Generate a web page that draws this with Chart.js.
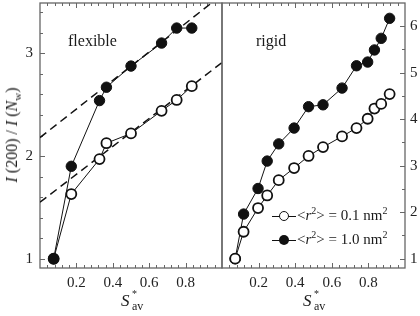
<!DOCTYPE html>
<html><head><meta charset="utf-8">
<script src="https://cdn.jsdelivr.net/npm/chart.js@4/dist/chart.umd.min.js"></script>
<style>
html,body{margin:0;padding:0;background:#fff;}
#wrap{position:relative;width:420px;height:316px;overflow:hidden;font-family:"Liberation Serif","Times New Roman",serif;color:#1a1a1a;}
canvas{position:absolute;left:0;top:0;}
.lbl{position:absolute;white-space:nowrap;font-size:16px;line-height:1;}
.leg{position:absolute;white-space:nowrap;font-size:15px;line-height:1;}
.leg sup{font-size:10px;vertical-align:0;position:relative;top:-6px;}
.sym{position:absolute;width:24px;height:12px;}
.sym::before{content:"";position:absolute;left:0;right:0;top:5.5px;height:1px;background:#111;}
.sym span{position:absolute;left:7px;top:1px;width:10px;height:10px;border-radius:50%;box-sizing:border-box;}
.xt{position:absolute;white-space:nowrap;font-size:17px;line-height:1;height:20px;}
.xt i{position:absolute;left:0;top:0;}
.xt .st{position:absolute;left:11px;top:-3px;font-size:10px;}
.xt .sb{position:absolute;left:11px;top:8px;font-size:12px;}
.yt{position:absolute;white-space:nowrap;font-size:16px;line-height:1;transform:translate(-50%,-50%) rotate(-90deg);}
.yt sub{font-size:11px;vertical-align:0;position:relative;top:4px;}
</style></head>
<body><div id="wrap">
<canvas id="cL" width="420" height="316" style="width:420px;height:316px"></canvas>
<canvas id="cR" width="420" height="316" style="width:420px;height:316px"></canvas>
<div class="yt" style="left:12px;top:135px"><i>I</i> (200) / <i>I</i> (<i>N</i><sub>w</sub>)</div>
<div class="lbl" style="left:68px;top:33px">flexible</div>
<div class="lbl" style="left:256px;top:33px">rigid</div>
<div class="xt" style="left:121px;top:292px"><i>S</i><span class="st">*</span><span class="sb">av</span></div>
<div class="xt" style="left:303px;top:292px"><i>S</i><span class="st">*</span><span class="sb">av</span></div>
<div class="sym" style="left:272px;top:210px"><span style="background:#fff;border:1.8px solid #111"></span></div>
<div class="sym" style="left:272px;top:234px"><span style="background:#111"></span></div>
<div class="leg" style="left:297px;top:208px">&lt;<i>r</i><sup>2</sup>&gt; = 0.1 nm<sup>2</sup></div>
<div class="leg" style="left:297px;top:232px">&lt;<i>r</i><sup>2</sup>&gt; = 1.0 nm<sup>2</sup></div>
</div>
<script>
// ---- data ----
const xTickLabels = [0.2, 0.4, 0.6, 0.8];
const leftYTicks = [1, 2, 3];
const rightYTicks = [1, 2, 3, 4, 5, 6];

// flexible panel
const flexX      = [0.075, 0.172, 0.327, 0.365, 0.50, 0.668, 0.751, 0.834];
const flexOpen   = [1.00, 1.63, 1.97, 2.125, 2.22, 2.44, 2.546, 2.68];   // <r2> = 0.1 nm2
const flexFilled = [1.00, 1.90, 2.54, 2.67, 2.876, 3.10, 3.246, 3.246];  // <r2> = 1.0 nm2
// dashed guide lines (end points)
const dashUpperX = [0, 1];
const dashUpperY = [2.18, 3.57];
const dashLowerX = [0, 1];
const dashLowerY = [1.55, 2.91];

// rigid panel
const rigidX      = [0.072, 0.118, 0.197, 0.247, 0.31, 0.394, 0.473, 0.552, 0.656, 0.735, 0.796, 0.833, 0.87, 0.916];
const rigidOpen   = [1.00, 1.58, 2.09, 2.36, 2.69, 2.95, 3.21, 3.40, 3.63, 3.81, 4.01, 4.23, 4.33, 4.54];
const rigidFilled = [1.00, 1.96, 2.51, 3.10, 3.47, 3.81, 4.27, 4.31, 4.67, 5.15, 5.23, 5.49, 5.74, 6.17];

// ---- helpers ----
const FONT = "'Liberation Serif','Times New Roman',serif";
const INK = '#111';
const AXIS = '#666';
function pts(xs, ys){ return xs.map((x,i)=>({x:x, y:ys[i]})); }
function range(a, b, step){ const out=[]; for(let v=a; v<=b+1e-9; v+=step) out.push(+v.toFixed(4)); return out; }

const frameTicks = {
  id:'frameTicks',
  beforeDatasetsDraw(chart, args, o){
    const {ctx, chartArea:a, scales} = chart;
    ctx.save();
    ctx.strokeStyle = AXIS; ctx.lineWidth = 1.3;
    ctx.strokeRect(a.left, a.top, a.right-a.left, a.bottom-a.top);
    ctx.lineWidth = 1;
    const xs = scales.x, ys = scales.y;
    function xt(vals, len){
      vals.forEach(v=>{ const p = Math.round(xs.getPixelForValue(v))+0.5;
        if(p<=a.left+1||p>=a.right-1) return;
        ctx.beginPath(); ctx.moveTo(p,a.bottom); ctx.lineTo(p,a.bottom-len);
        ctx.moveTo(p,a.top); ctx.lineTo(p,a.top+len); ctx.stroke(); });
    }
    function yt(vals, len){
      vals.forEach(v=>{ const p = Math.round(ys.getPixelForValue(v))+0.5;
        if(p<=a.top+1||p>=a.bottom-1) return;
        ctx.beginPath();
        if(o.side==='left'){ ctx.moveTo(a.left,p); ctx.lineTo(a.left+len,p); }
        else { ctx.moveTo(a.right,p); ctx.lineTo(a.right-len,p); }
        ctx.stroke(); });
    }
    xt(range(0,1,0.04), 3); xt(xTickLabels, 5);
    yt(o.minorY, 3); yt(o.majorY, 5);
    ctx.restore();
  }
};

function noPad(s){ s.paddingTop = 0; s.paddingBottom = 0; s.paddingLeft = 0; s.paddingRight = 0; }

function makeChart(id, cfg){
  const tickFont = {family:FONT, size:15};
  return new Chart(document.getElementById(id), {
    type:'scatter',
    data:{datasets:cfg.datasets},
    options:{
      responsive:false, animation:false, devicePixelRatio:1,
      layout:{padding:cfg.padding, autoPadding:false},
      plugins:{legend:{display:false}, tooltip:{enabled:false},
               frameTicks:{side:cfg.side, majorY:cfg.yTicks, minorY:cfg.minorY}},
      scales:{
        x:{type:'linear', position:'bottom', min:0, max:1,
           afterFit(s){ s.height = 48; noPad(s); },
           afterBuildTicks(s){ s.ticks = xTickLabels.map(v=>({value:v})); },
           grid:{display:false, drawTicks:false}, border:{display:false},
           ticks:{autoSkip:false, maxRotation:0, padding:6, font:tickFont, color:'#222',
                  callback:v=>Number(v).toFixed(1)}},
        y:{type:'linear', position:cfg.side, min:cfg.ymin, max:cfg.ymax,
           afterFit(s){ s.width = cfg.yWidth; noPad(s); },
           afterBuildTicks(s){ s.ticks = cfg.yTicks.map(v=>({value:v})); },
           grid:{display:false, drawTicks:false}, border:{display:false},
           ticks:{autoSkip:false, padding:cfg.side==='left'?7:5, font:tickFont, color:'#222',
                  callback:v=>String(v)}}
      }
    },
    plugins:[frameTicks]
  });
}

function openSet(data, order){
  return {data, showLine:true, borderColor:INK, borderWidth:1, pointRadius:5, pointHoverRadius:5,
          pointBorderWidth:1.8, pointBackgroundColor:'#fff', pointBorderColor:INK, order};
}
function filledSet(data, order){
  return {data, showLine:true, borderColor:INK, borderWidth:1, pointRadius:5.2, pointHoverRadius:5.2,
          pointBorderWidth:1, pointBackgroundColor:INK, pointBorderColor:INK, order};
}
function dashSet(data){
  return {data, showLine:true, borderColor:INK, borderWidth:1.5, borderDash:[8,5], pointRadius:0, order:5};
}

makeChart('cL', {
  side:'left', padding:{left:0, right:198, top:3, bottom:0}, yWidth:40,
  ymin:0.91, ymax:3.49, yTicks:leftYTicks, minorY:range(1,3.4,0.2),
  datasets:[
    dashSet(pts(dashUpperX, dashUpperY)),
    dashSet(pts(dashLowerX, dashLowerY)),
    openSet(pts(flexX, flexOpen), 1),
    filledSet(pts(flexX, flexFilled), 0)
  ]
});
makeChart('cR', {
  side:'right', padding:{left:222, right:0, top:3, bottom:0}, yWidth:15,
  ymin:0.8, ymax:6.5, yTicks:rightYTicks, minorY:range(1,6.5,0.5),
  datasets:[
    filledSet(pts(rigidX, rigidFilled), 1),
    openSet(pts(rigidX, rigidOpen), 0)
  ]
});
</script>
</body></html>
